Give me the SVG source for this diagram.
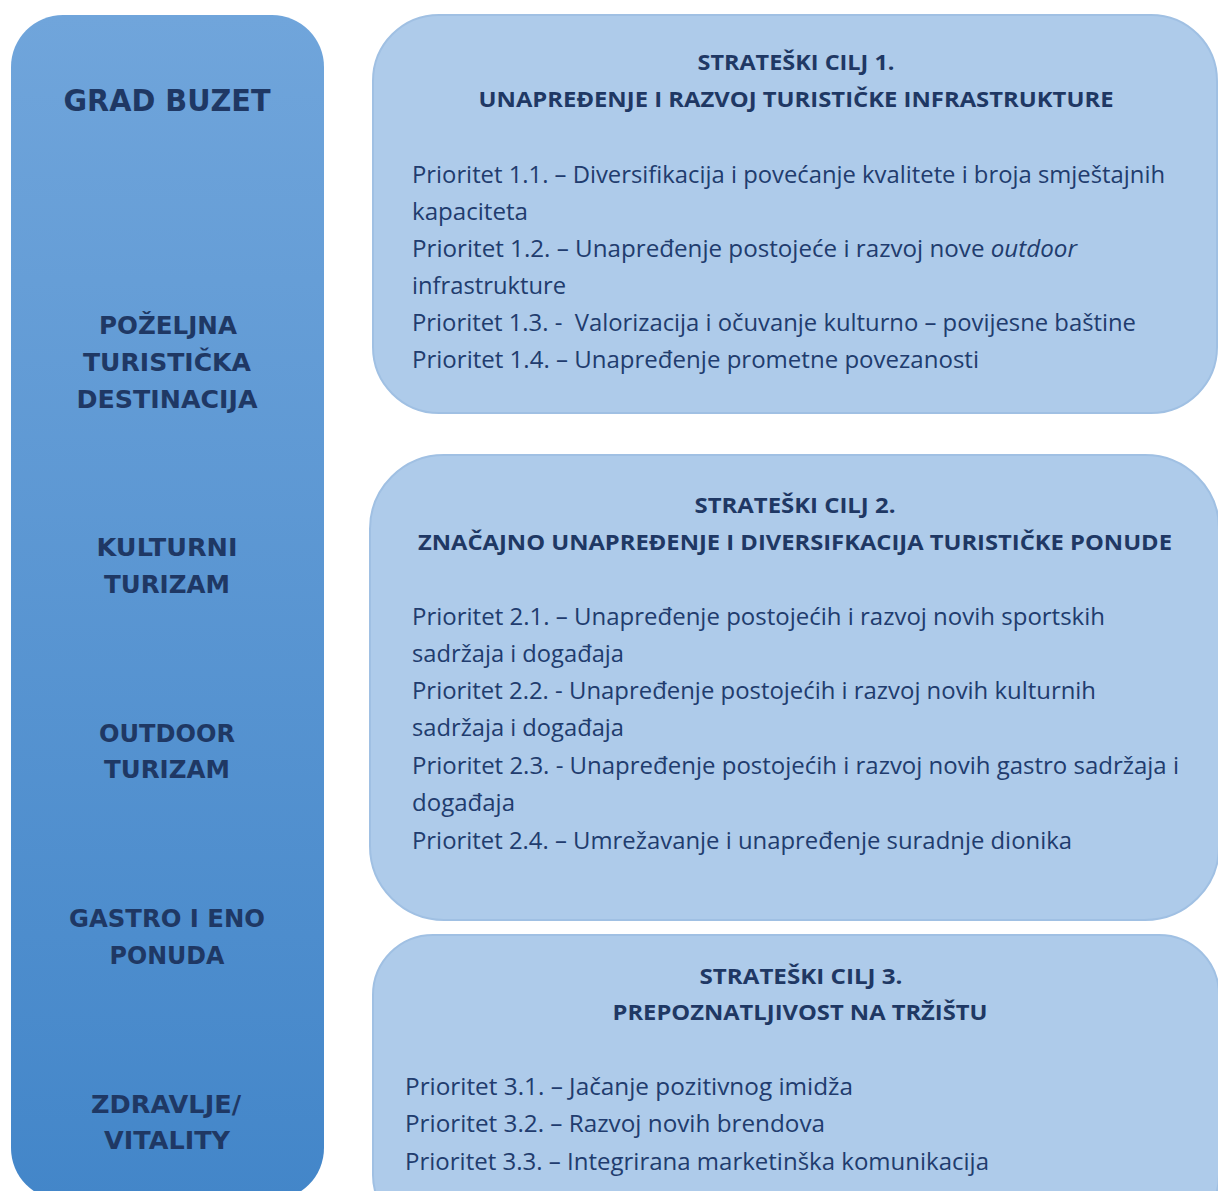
<svg xmlns="http://www.w3.org/2000/svg" width="1218" height="1191" viewBox="0 0 1218 1191">
<defs>
<linearGradient id="colGrad" x1="0" y1="0" x2="0" y2="1">
<stop offset="0" stop-color="#70a5db"/>
<stop offset="1" stop-color="#4386c9"/>
</linearGradient>
<style>
.col{fill:url(#colGrad);}
.goal{fill:#aecbea;stroke:#a0c0e3;stroke-width:2;}
.lbl{font-family:"DejaVu Sans",Verdana,sans-serif;font-weight:bold;fill:#1f3864;text-anchor:middle;font-size:25px;}
.big{font-size:31px;}
.ttl{font-family:"Open Sans","Liberation Sans",sans-serif;font-weight:bold;fill:#1f3864;text-anchor:middle;font-size:22px;}
.txt{font-family:"Open Sans","Liberation Sans",sans-serif;fill:#213c6e;font-size:23px;}
</style>
</defs>
<rect width="1218" height="1191" fill="#ffffff"/>
<g id="column">
<rect class="col" x="11" y="15" width="313" height="1185" rx="52" ry="52"/>
<text class="lbl big" x="167" y="111" textLength="207" lengthAdjust="spacingAndGlyphs">GRAD BUZET</text>
<text class="lbl" x="168" y="334" textLength="138" lengthAdjust="spacingAndGlyphs">POŽELJNA</text>
<text class="lbl" x="167" y="371" textLength="168" lengthAdjust="spacingAndGlyphs">TURISTIČKA</text>
<text class="lbl" x="167" y="408" textLength="181" lengthAdjust="spacingAndGlyphs">DESTINACIJA</text>
<text class="lbl" x="167" y="556" textLength="141" lengthAdjust="spacingAndGlyphs">KULTURNI</text>
<text class="lbl" x="167" y="593" textLength="126" lengthAdjust="spacingAndGlyphs">TURIZAM</text>
<text class="lbl" x="167" y="742" textLength="136" lengthAdjust="spacingAndGlyphs">OUTDOOR</text>
<text class="lbl" x="167" y="778" textLength="126" lengthAdjust="spacingAndGlyphs">TURIZAM</text>
<text class="lbl" x="167" y="927" textLength="196" lengthAdjust="spacingAndGlyphs">GASTRO I ENO</text>
<text class="lbl" x="167" y="964" textLength="115" lengthAdjust="spacingAndGlyphs">PONUDA</text>
<text class="lbl" x="166" y="1113" textLength="150" lengthAdjust="spacingAndGlyphs">ZDRAVLJE/</text>
<text class="lbl" x="167" y="1149" textLength="126" lengthAdjust="spacingAndGlyphs">VITALITY</text>
</g>
<g id="goal1">
<rect class="goal" x="373" y="15" width="844" height="398" rx="66" ry="66"/>
<text class="ttl" x="796" y="70" textLength="197" lengthAdjust="spacingAndGlyphs">STRATEŠKI CILJ 1.</text>
<text class="ttl" x="796" y="107" textLength="635" lengthAdjust="spacingAndGlyphs">UNAPREĐENJE I RAZVOJ TURISTIČKE INFRASTRUKTURE</text>
<text class="txt" x="412" y="183" textLength="753" lengthAdjust="spacingAndGlyphs">Prioritet 1.1. – Diversifikacija i povećanje kvalitete i broja smještajnih</text>
<text class="txt" x="412" y="220" textLength="116" lengthAdjust="spacingAndGlyphs">kapaciteta</text>
<text class="txt" x="412" y="257" textLength="665" lengthAdjust="spacingAndGlyphs">Prioritet 1.2. – Unapređenje postojeće i razvoj nove <tspan font-style="italic">outdoor</tspan></text>
<text class="txt" x="412" y="294" textLength="154" lengthAdjust="spacingAndGlyphs">infrastrukture</text>
<text class="txt" x="412" y="331" textLength="724" lengthAdjust="spacingAndGlyphs" xml:space="preserve">Prioritet 1.3. -  Valorizacija i očuvanje kulturno – povijesne baštine</text>
<text class="txt" x="412" y="368" textLength="567" lengthAdjust="spacingAndGlyphs">Prioritet 1.4. – Unapređenje prometne povezanosti</text>
</g>
<g id="goal2">
<rect class="goal" x="370" y="455" width="849" height="465" rx="74" ry="74"/>
<text class="ttl" x="795" y="513" textLength="201" lengthAdjust="spacingAndGlyphs">STRATEŠKI CILJ 2.</text>
<text class="ttl" x="795" y="550" textLength="754" lengthAdjust="spacingAndGlyphs">ZNAČAJNO UNAPREĐENJE I DIVERSIFKACIJA TURISTIČKE PONUDE</text>
<text class="txt" x="412" y="625" textLength="693" lengthAdjust="spacingAndGlyphs">Prioritet 2.1. – Unapređenje postojećih i razvoj novih sportskih</text>
<text class="txt" x="412" y="662" textLength="212" lengthAdjust="spacingAndGlyphs">sadržaja i događaja</text>
<text class="txt" x="412" y="699" textLength="684" lengthAdjust="spacingAndGlyphs">Prioritet 2.2. - Unapređenje postojećih i razvoj novih kulturnih</text>
<text class="txt" x="412" y="736" textLength="212" lengthAdjust="spacingAndGlyphs">sadržaja i događaja</text>
<text class="txt" x="412" y="774" textLength="767" lengthAdjust="spacingAndGlyphs">Prioritet 2.3. - Unapređenje postojećih i razvoj novih gastro sadržaja i</text>
<text class="txt" x="412" y="811" textLength="103" lengthAdjust="spacingAndGlyphs">događaja</text>
<text class="txt" x="412" y="849" textLength="660" lengthAdjust="spacingAndGlyphs">Prioritet 2.4. – Umrežavanje i unapređenje suradnje dionika</text>
</g>
<g id="goal3">
<rect class="goal" x="373" y="935" width="846" height="300" rx="60" ry="60"/>
<text class="ttl" x="801" y="984" textLength="203" lengthAdjust="spacingAndGlyphs">STRATEŠKI CILJ 3.</text>
<text class="ttl" x="800" y="1020" textLength="375" lengthAdjust="spacingAndGlyphs">PREPOZNATLJIVOST NA TRŽIŠTU</text>
<text class="txt" x="405" y="1095" textLength="448" lengthAdjust="spacingAndGlyphs">Prioritet 3.1. – Jačanje pozitivnog imidža</text>
<text class="txt" x="405" y="1132" textLength="420" lengthAdjust="spacingAndGlyphs">Prioritet 3.2. – Razvoj novih brendova</text>
<text class="txt" x="405" y="1170" textLength="584" lengthAdjust="spacingAndGlyphs">Prioritet 3.3. – Integrirana marketinška komunikacija</text>
</g>
<g id="connectors"/>
</svg>
